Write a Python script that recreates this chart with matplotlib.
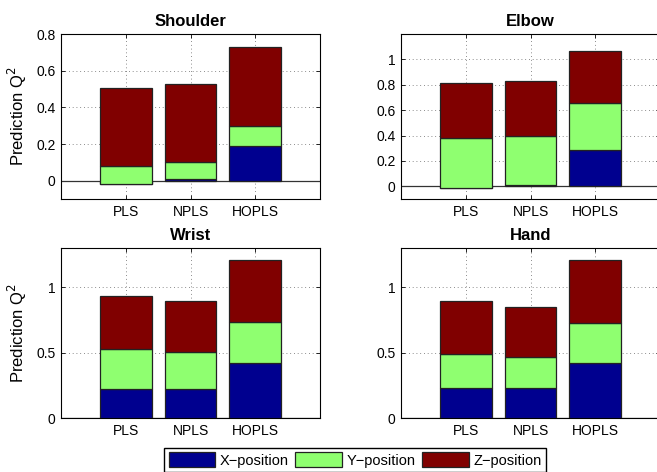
import numpy as np
import matplotlib
matplotlib.use("Agg")
import matplotlib.pyplot as plt

plt.rcParams['font.family'] = ['Liberation Sans', 'DejaVu Sans']

methods = ["PLS", "NPLS", "HOPLS"]
series = ["X\u2212position", "Y\u2212position", "Z\u2212position"]
colors = ["#00008f", "#8fff70", "#800000"]

# per panel: X, Y, Z components for PLS, NPLS, HOPLS
shoulder_x = [-0.02, 0.01, 0.19]
shoulder_y = [0.10, 0.09, 0.11]
shoulder_z = [0.425, 0.43, 0.43]

elbow_x = [-0.01, 0.013, 0.286]
elbow_y = [0.393, 0.384, 0.37]
elbow_z = [0.432, 0.433, 0.414]

wrist_x = [0.223, 0.218, 0.417]
wrist_y = [0.302, 0.289, 0.32]
wrist_z = [0.409, 0.389, 0.471]

hand_x = [0.233, 0.226, 0.422]
hand_y = [0.258, 0.242, 0.302]
hand_z = [0.407, 0.382, 0.484]

panels = [
    ("Shoulder", [shoulder_x, shoulder_y, shoulder_z], (-0.1, 0.8), [0, 0.2, 0.4, 0.6, 0.8], ["0", "0.2", "0.4", "0.6", "0.8"], True),
    ("Elbow", [elbow_x, elbow_y, elbow_z], (-0.1, 1.2), [0, 0.2, 0.4, 0.6, 0.8, 1.0], ["0", "0.2", "0.4", "0.6", "0.8", "1"], False),
    ("Wrist", [wrist_x, wrist_y, wrist_z], (0, 1.3), [0, 0.5, 1.0], ["0", "0.5", "1"], True),
    ("Hand", [hand_x, hand_y, hand_z], (0, 1.3), [0, 0.5, 1.0], ["0", "0.5", "1"], False),
]

W, H = 657, 472
fig = plt.figure(figsize=(W / 100, H / 100), dpi=100)

boxes = [(61, 34, 320, 199), (401, 34, 660, 199), (61, 248, 320, 418), (401, 248, 660, 418)]

x = np.arange(1, 4)
for (title, vals, ylim, yt, ytl, ylab), (l, t, r, b) in zip(panels, boxes):
    ax = fig.add_axes([l / W, (H - b) / H, (r - l) / W, (b - t) / H])
    bottom = np.zeros(3)
    handles = []
    for v, c, name in zip(vals, colors, series):
        v = np.array(v)
        h = ax.bar(x, v, 0.8, bottom=bottom, color=c, edgecolor="#222222", linewidth=0.9, label=name, zorder=3)
        handles.append(h)
        bottom = bottom + v
    ax.axhline(0, color="#333333", linewidth=0.9, zorder=2)
    ax.set_xlim(0, 4)
    ax.set_ylim(*ylim)
    ax.set_xticks(x)
    ax.set_xticklabels(methods, fontsize=10)
    ax.set_yticks(yt)
    ax.set_yticklabels(ytl, fontsize=10)
    ax.tick_params(direction="in", top=True, right=True, length=3, width=0.6, pad=4)
    ax.grid(True, linestyle=(0, (1, 3.5)), color="#666666", linewidth=0.6, zorder=0)
    ax.set_title(title, fontsize=12, fontweight="bold", pad=6)
    for s in ax.spines.values():
        s.set_linewidth(0.8)
    if ylab:
        ax.set_ylabel("Prediction Q$^2$", fontsize=12, labelpad=5)

fig.legend(handles, series, loc="center", ncol=3, bbox_to_anchor=(355 / W, (H - 460) / H),
           frameon=True, fancybox=False, edgecolor="black", framealpha=1,
           fontsize=10.5, handlelength=3.2, handleheight=1.2, handletextpad=0.3,
           columnspacing=0.45, borderpad=0.3, borderaxespad=0)

fig.savefig("out.png", dpi=100)
